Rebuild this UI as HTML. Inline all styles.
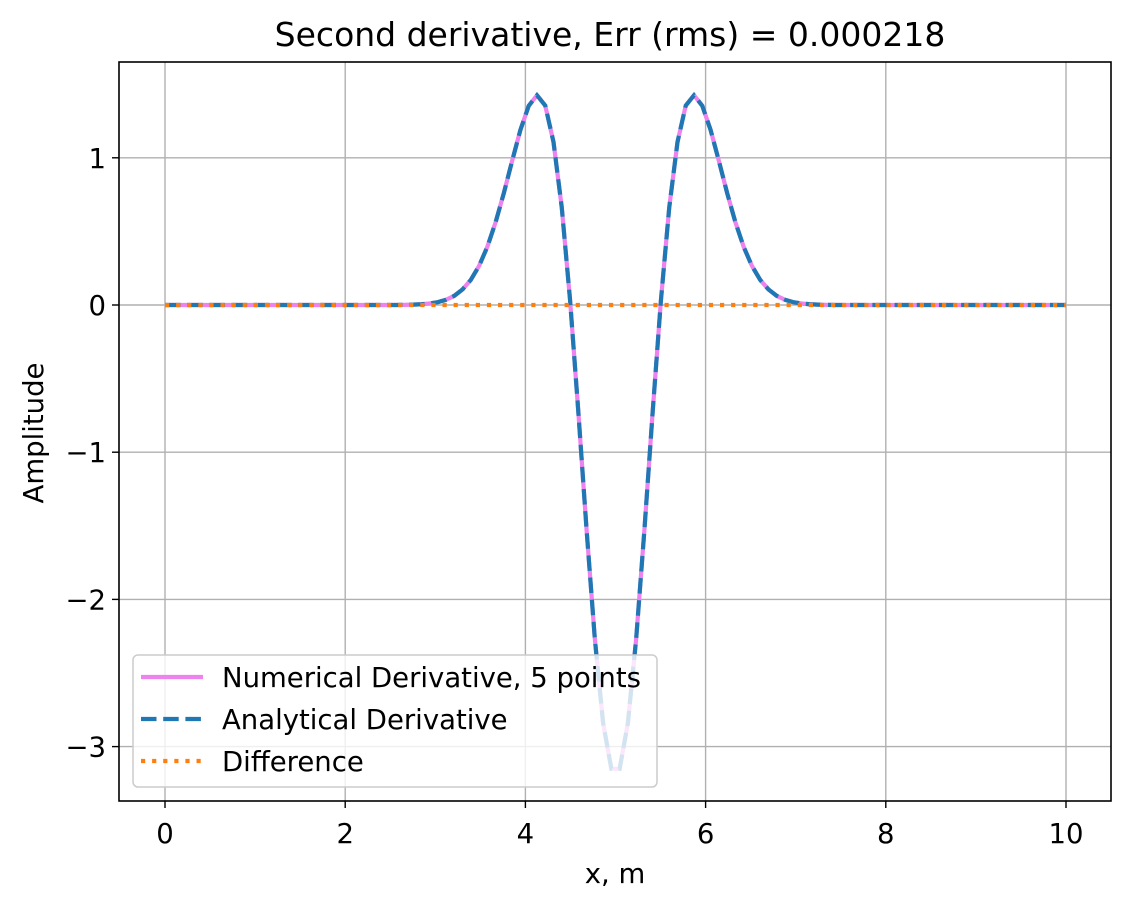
<!DOCTYPE html>
<html><head><meta charset="utf-8"><style>
html,body{margin:0;padding:0;background:#fff;}
svg{display:block;font-family:"DejaVu Sans","Liberation Sans",sans-serif;}
</style></head><body>
<svg id="chart" width="1131" height="908" viewBox="0 0 1131 908">
<rect x="0" y="0" width="1131" height="908" fill="#fff"/>
<g id="grid"></g>
<g id="series"></g>
<rect x="119" y="62" width="992" height="739" fill="none" stroke="#000" stroke-width="1.6"/>
<g id="ticks"></g>
<text x="610" y="46" font-size="33" text-anchor="middle">Second derivative, Err (rms) = 0.000218</text>
<text x="615" y="883" font-size="27.5" text-anchor="middle">x, m</text>
<text x="43" y="433" font-size="27.5" text-anchor="middle" transform="rotate(-90 43 433)">Amplitude</text>
<g id="legend">
<rect x="133" y="655" width="524" height="132" rx="5" fill="rgba(255,255,255,0.8)" stroke="#ccc" stroke-width="1.5"/>
<line x1="141" y1="677" x2="203" y2="677" stroke="#ee82ee" stroke-width="4.2"/>
<text x="222" y="687" font-size="27.5">Numerical Derivative, 5 points</text>
<line x1="141" y1="719" x2="203" y2="719" stroke="#1f77b4" stroke-width="4.2" stroke-dasharray="15.5 6.7"/>
<text x="222" y="729" font-size="27.5">Analytical Derivative</text>
<line x1="141" y1="761" x2="203" y2="761" stroke="#ff7f0e" stroke-width="4.2" stroke-dasharray="4.2 6.9"/>
<text x="222" y="771" font-size="27.5">Difference</text>
</g>
</svg>
<script>
const xTicks = [0, 2, 4, 6, 8, 10];
const yTicks = [1, 0, -1, -2, -3];
const yTickLabels = ["1", "0", "\u22121", "\u22122", "\u22123"];
const nPoints = 110;
const xMin = 0, xMax = 10;
const numerical = [0,0,0,0,0,0,0,0,0,0,0,0,0,0,0,0,0,0,0,0,0,0,0,0,0,0,0,0,0,0.001,
0.0025,0.0051,0.0102,0.0194,0.0355,0.0625,0.106,0.171,0.266,0.396,0.563,0.762,0.980,1.190,1.353,1.425,1.355,1.107,0.662,0.035,-0.723,-1.526,-2.268,-2.840,-3.151,
-3.151,-2.840,-2.268,-1.526,-0.723,0.035,0.662,1.107,1.355,1.425,1.353,1.190,0.980,0.762,0.563,0.396,0.266,0.171,0.106,0.0625,0.0355,0.0194,0.0102,0.0051,0.0025,
0.001,0,0,0,0,0,0,0,0,0,0,0,0,0,0,0,0,0,0,0,0,0,0,0,0,0,0,0,0,0];
const analytical = [0,0,0,0,0,0,0,0,0,0,0,0,0,0,0,0,0,0,0,0,0,0,0,0,0,0,0,0,0,0.001,
0.0025,0.0051,0.0102,0.0194,0.0355,0.0625,0.106,0.171,0.266,0.396,0.563,0.762,0.980,1.190,1.353,1.425,1.355,1.107,0.662,0.035,-0.723,-1.526,-2.268,-2.840,-3.151,
-3.151,-2.840,-2.268,-1.526,-0.723,0.035,0.662,1.107,1.355,1.425,1.353,1.190,0.980,0.762,0.563,0.396,0.266,0.171,0.106,0.0625,0.0355,0.0194,0.0102,0.0051,0.0025,
0.001,0,0,0,0,0,0,0,0,0,0,0,0,0,0,0,0,0,0,0,0,0,0,0,0,0,0,0,0,0];
const difference = [0,0,0,0,0,0,0,0,0,0,0,0,0,0,0,0,0,0,0,0,0,0,0,0,0,0,0,0,0,0,
0,0,0,0,0,0,0,0,0,0,0,0,0,0,0,0,0,0,0,0,0,0,0,0,0,
0,0,0,0,0,0,0,0,0,0,0,0,0,0,0,0,0,0,0,0,0,0,0,0,0,
0,0,0,0,0,0,0,0,0,0,0,0,0,0,0,0,0,0,0,0,0,0,0,0,0,0,0,0,0,0];

const NS = "http://www.w3.org/2000/svg";
function sx(v){ return 165 + v * 90.1; }
function sy(v){ return 305 - v * 147.2; }
function mk(tag, attrs, parent){
  const e = document.createElementNS(NS, tag);
  for (const k in attrs) e.setAttribute(k, attrs[k]);
  parent.appendChild(e);
  return e;
}
const grid = document.getElementById('grid');
const ticks = document.getElementById('ticks');
xTicks.forEach(t => {
  const g = mk('line', {x1: sx(t), x2: sx(t), y1: 62, y2: 801, stroke: '#b0b0b0', 'stroke-width': 1.4}, grid);
  
  
  const tk = mk('line', {x1: sx(t), x2: sx(t), y1: 801, y2: 808, stroke: '#000', 'stroke-width': 1.4}, ticks);
  
  
  const lb = mk('text', {x: sx(t), y: 843, 'font-size': 27.5, 'text-anchor': 'middle'}, ticks);
  lb.textContent = String(t);
  
  
});
yTicks.forEach((t, i) => {
  const g = mk('line', {x1: 119, x2: 1111, y1: sy(t), y2: sy(t), stroke: '#b0b0b0', 'stroke-width': 1.4}, grid);
  
  
  const tk = mk('line', {x1: 112, x2: 119, y1: sy(t), y2: sy(t), stroke: '#000', 'stroke-width': 1.4}, ticks);
  
  
  const lb = mk('text', {x: 106, y: sy(t) + 10, 'font-size': 27.5, 'text-anchor': 'end'}, ticks);
  lb.textContent = yTickLabels[i];
  
  
});
const series = document.getElementById('series');
function path(vals){
  return vals.map((v, i) => (i ? 'L' : 'M') + sx(xMin + i * (xMax - xMin) / (nPoints - 1)).toFixed(2) + ' ' + sy(v).toFixed(2)).join(' ');
}
const p1 = mk('path', {d: path(numerical), fill: 'none', stroke: '#ee82ee', 'stroke-width': 4.2, 'stroke-linejoin': 'round'}, series);


const p2 = mk('path', {d: path(analytical), fill: 'none', stroke: '#1f77b4', 'stroke-width': 4.2, 'stroke-dasharray': '15.5 6.7'}, series);


const p3 = mk('path', {d: path(difference), fill: 'none', stroke: '#ff7f0e', 'stroke-width': 4.2, 'stroke-dasharray': '4.2 6.9'}, series);


</script>
</body></html>
